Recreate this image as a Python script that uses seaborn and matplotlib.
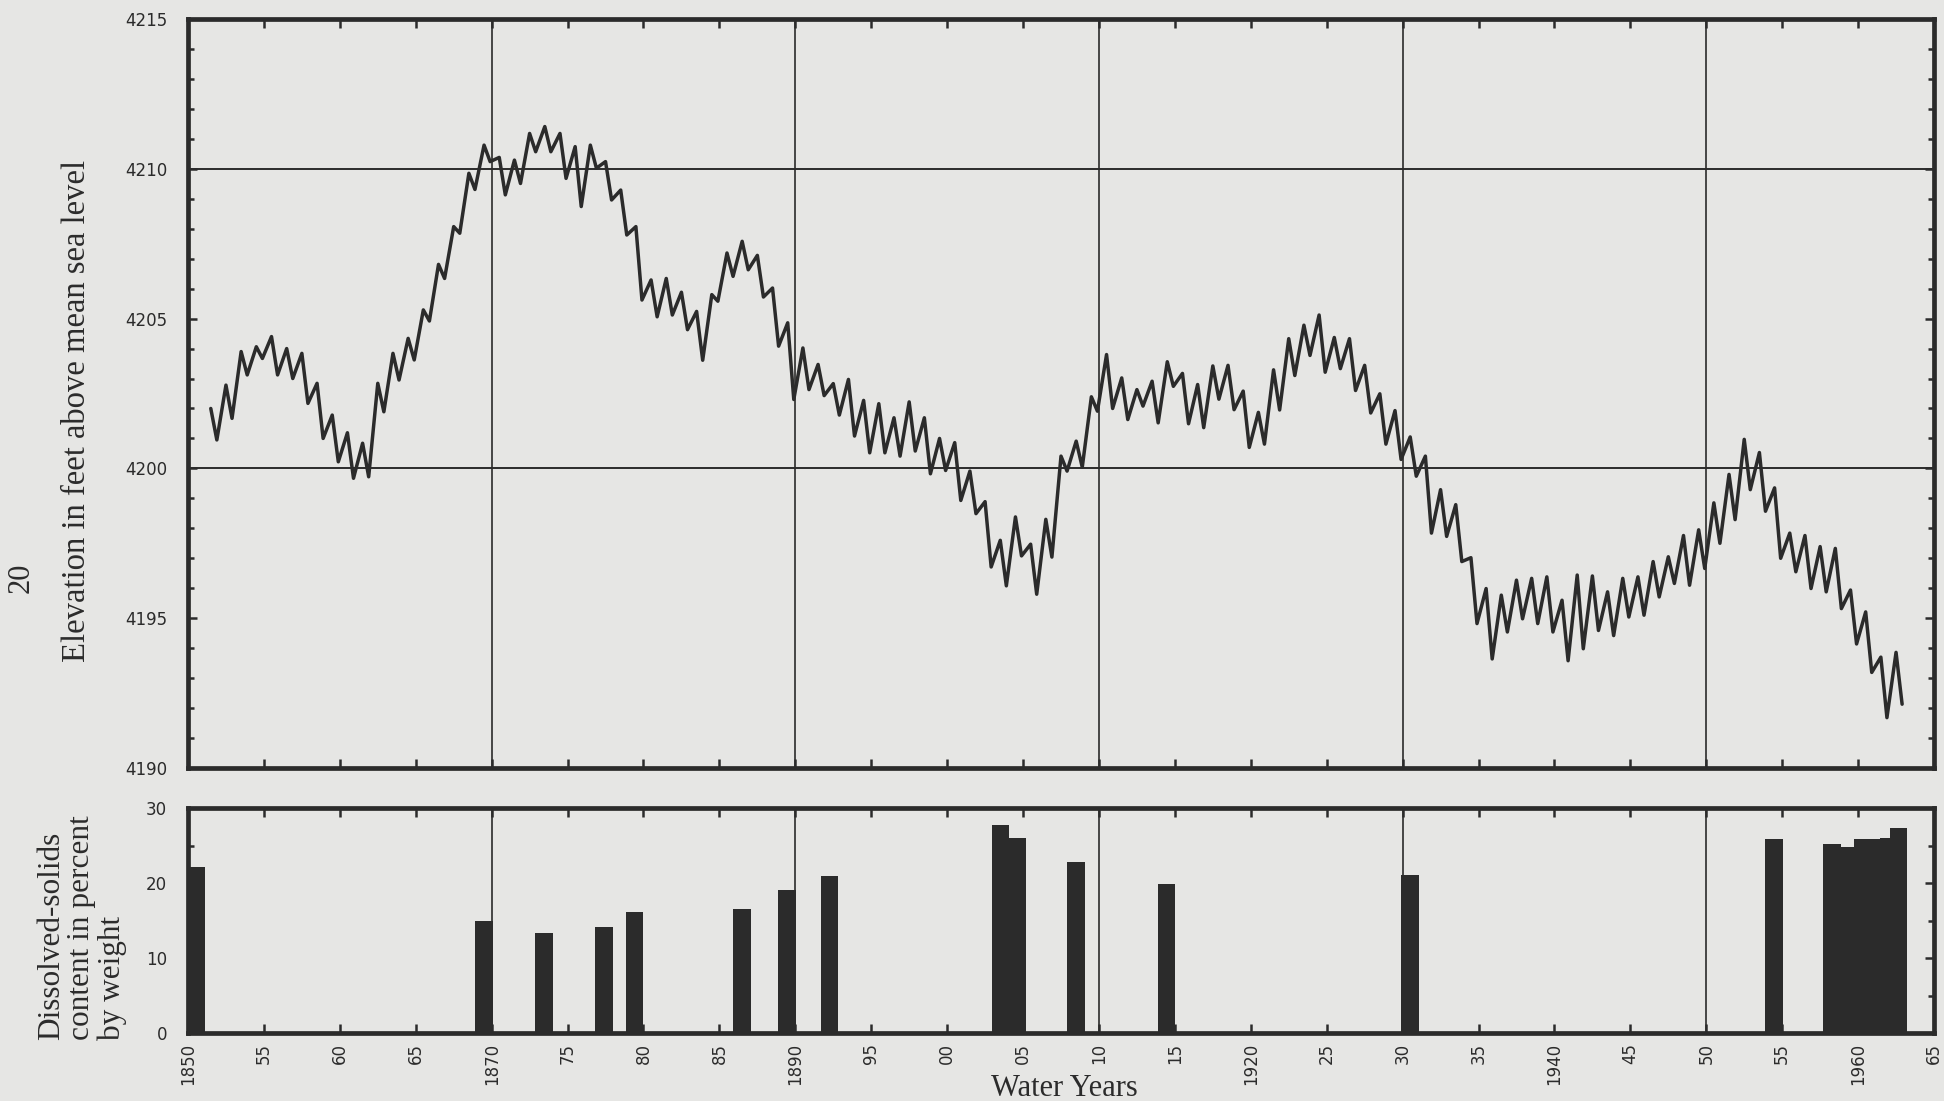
import numpy as np
import pandas as pd
import matplotlib
matplotlib.use("Agg")
import matplotlib.pyplot as plt
import seaborn as sns
from matplotlib.ticker import MultipleLocator, FixedLocator, FixedFormatter

# ---------------------------------------------------------------------------
# Great Salt Lake: water-surface elevation and dissolved-solids content
# ---------------------------------------------------------------------------

# Water years of the elevation record
water_years = list(range(1851, 1963))

# Seasonal high (spring/early summer) elevation, feet above mean sea level
spring_high = [
    4202.0, 4202.78, 4203.9, 4204.06, 4204.4, 4204.0, 4203.84, 4202.84, 4201.78, 4201.19,
    4200.84, 4202.84, 4203.84, 4204.34, 4205.29, 4206.81, 4208.07, 4209.85, 4210.79, 4210.38,
    4210.29, 4211.18, 4211.41, 4211.18, 4210.74, 4210.79, 4210.24, 4209.29, 4208.07, 4206.29,
    4206.34, 4205.88, 4205.24, 4205.8, 4207.19, 4207.58, 4207.11, 4206.02, 4204.86, 4204.02,
    4203.47, 4202.83, 4202.97, 4202.27, 4202.16, 4201.69, 4202.22, 4201.69, 4201.0, 4200.86,
    4199.91, 4198.89, 4197.6, 4198.38, 4197.47, 4198.3, 4200.41, 4200.91, 4202.39, 4203.8,
    4203.02, 4202.63, 4202.91, 4203.56, 4203.17, 4202.8, 4203.42, 4203.44, 4202.58, 4201.87,
    4203.29, 4204.33, 4204.78, 4205.12, 4204.37, 4204.33, 4203.44, 4202.49, 4201.93, 4201.05,
    4200.41, 4199.29, 4198.79, 4197.02, 4195.99, 4195.77, 4196.27, 4196.33, 4196.38, 4195.6,
    4196.44, 4196.41, 4195.88, 4196.33, 4196.38, 4196.89, 4197.05, 4197.76, 4197.95, 4198.85,
    4199.8, 4200.97, 4200.53, 4199.35, 4197.84, 4197.76, 4197.39, 4197.33, 4195.94, 4195.21,
    4193.7, 4193.86,
]

# Seasonal low (autumn) elevation, feet above mean sea level
autumn_low = [
    4200.95, 4201.67, 4203.12, 4203.67, 4203.12, 4203.0, 4202.17, 4201.0, 4200.22, 4199.67,
    4199.72, 4201.89, 4202.95, 4203.62, 4204.92, 4206.34, 4207.85, 4209.31, 4210.24, 4209.13,
    4209.51, 4210.57, 4210.57, 4209.68, 4208.74, 4210.02, 4208.96, 4207.79, 4205.62, 4205.06,
    4205.12, 4204.63, 4203.61, 4205.58, 4206.41, 4206.63, 4205.72, 4204.08, 4202.3, 4202.63,
    4202.43, 4201.78, 4201.08, 4200.52, 4200.52, 4200.41, 4200.58, 4199.82, 4199.93, 4198.93,
    4198.49, 4196.71, 4196.08, 4197.08, 4195.8, 4197.04, 4199.91, 4200.04, 4201.91, 4202.0,
    4201.63, 4202.08, 4201.52, 4202.74, 4201.49, 4201.36, 4202.31, 4201.96, 4200.7, 4200.81,
    4201.95, 4203.1, 4203.77, 4203.21, 4203.33, 4202.6, 4201.85, 4200.81, 4200.3, 4199.74,
    4197.84, 4197.73, 4196.89, 4194.82, 4193.64, 4194.54, 4194.98, 4194.82, 4194.54, 4193.58,
    4193.98, 4194.59, 4194.42, 4195.04, 4195.1, 4195.71, 4196.16, 4196.1, 4196.66, 4197.5,
    4198.29, 4199.29, 4198.57, 4197.0, 4196.55, 4195.99, 4195.88, 4195.32, 4194.14, 4193.19,
    4191.68, 4192.13,
]

# Timing of the seasonal high and low within each water year (fraction of year)
HIGH_OFFSET = 0.5
LOW_OFFSET = 0.9

# Dissolved-solids samples: sampling date (decimal year) and percent by weight
sample_dates = [1850.55, 1869.5, 1873.45, 1877.4, 1879.4, 1886.5, 1889.45, 1892.25,
                1903.5, 1904.6, 1908.5, 1914.45, 1930.5, 1954.45,
                1958.27, 1959.3, 1960.3, 1961.3, 1962.0, 1962.65]
dissolved_solids = [22.2, 15.0, 13.3, 14.1, 16.1, 16.5, 19.1, 20.9,
                    27.8, 26.0, 22.8, 19.9, 21.1, 25.9,
                    25.2, 24.8, 25.9, 25.9, 26.0, 27.3]

# Axis text
year_ticks = list(range(1850, 1966, 5))
year_labels = ["1850", "55", "60", "65", "1870", "75", "80", "85", "1890", "95",
               "00", "05", "10", "15", "1920", "25", "30", "35", "1940", "45",
               "50", "55", "1960", "65"]
grid_years = [1870, 1890, 1910, 1930, 1950]
grid_levels = [4200, 4210]

# ---------------------------------------------------------------------------
sns.set_theme(style="ticks")
plt.rcParams["font.family"] = ["DejaVu Sans"]

INK = "#2b2b2b"
PAPER = "#e6e6e4"
SERIF = ["Liberation Serif", "DejaVu Serif"]

W, H = 1944, 1101
fig = plt.figure(figsize=(W / 100, H / 100), dpi=100, facecolor=PAPER)
ax1 = fig.add_axes([188 / W, 1 - 768 / H, 1746 / W, 749 / H], facecolor=PAPER)
ax2 = fig.add_axes([188 / W, 1 - 1033 / H, 1746 / W, 225 / H], facecolor=PAPER)

# Elevation hydrograph: interleave seasonal highs and lows
yrs = np.asarray(water_years, dtype=float)
t = np.ravel(np.column_stack([yrs + HIGH_OFFSET, yrs + LOW_OFFSET]))
z = np.ravel(np.column_stack([spring_high, autumn_low]))
elev = pd.DataFrame({"year": t, "elevation": z})
sns.lineplot(data=elev, x="year", y="elevation", ax=ax1, color=INK, lw=2.5,
             sort=False, estimator=None, zorder=3)

# Dissolved-solids bars
ax2.bar(sample_dates, dissolved_solids, width=1.15, color=INK, linewidth=0, zorder=3)

# Reference lines
for ax in (ax1, ax2):
    for gy in grid_years:
        ax.axvline(gy, color=INK, lw=1.2, zorder=1)
for gl in grid_levels:
    ax1.axhline(gl, color=INK, lw=1.4, zorder=1)

# Limits and ticks
ax1.set_xlim(1850, 1965)
ax1.set_ylim(4190, 4215)
ax2.set_xlim(1850, 1965)
ax2.set_ylim(0, 30)

ax1.yaxis.set_major_locator(MultipleLocator(5))
ax1.yaxis.set_minor_locator(MultipleLocator(1))
ax2.yaxis.set_major_locator(MultipleLocator(10))
ax2.yaxis.set_minor_locator(MultipleLocator(5))

for ax in (ax1, ax2):
    ax.xaxis.set_major_locator(FixedLocator(year_ticks))
    ax.set_xlabel("")
    ax.set_ylabel("")
    ax.grid(False)
    for s in ax.spines.values():
        s.set_linewidth(3.4)
        s.set_color(INK)
        s.set_visible(True)
    ax.tick_params(axis="both", which="both", direction="in", top=True, right=True,
                   color=INK, width=1.8, labelcolor=INK)
    ax.tick_params(axis="both", which="major", length=6.5)
    ax.tick_params(axis="both", which="minor", length=4.5)
    ax.tick_params(axis="y", which="major", labelsize=12, pad=15)

ax1.tick_params(axis="x", labelbottom=False)
ax2.xaxis.set_major_formatter(FixedFormatter(year_labels))
ax2.tick_params(axis="x", labelsize=12, pad=7, labelrotation=90)

# Labels
fig.text(77 / W, 1 - 411 / H, "Elevation in feet above mean sea level", rotation=90,
         ha="center", va="center", fontsize=23.5, family=SERIF, color=INK)
fig.text(82 / W, 1 - 1040 / H, "Dissolved-solids\ncontent in percent\nby weight",
         rotation=90, ha="center", va="bottom", multialignment="left",
         linespacing=1.05, fontsize=22.5, family=SERIF, color=INK)
fig.text(1064 / W, 1 - 1088 / H, "Water Years", ha="center", va="center",
         fontsize=22, family=SERIF, color=INK)
fig.text(21 / W, 1 - 578 / H, "20", rotation=90, ha="center", va="center",
         fontsize=22, family=SERIF, color=INK)

fig.savefig("out.png", dpi=100, facecolor=PAPER)
